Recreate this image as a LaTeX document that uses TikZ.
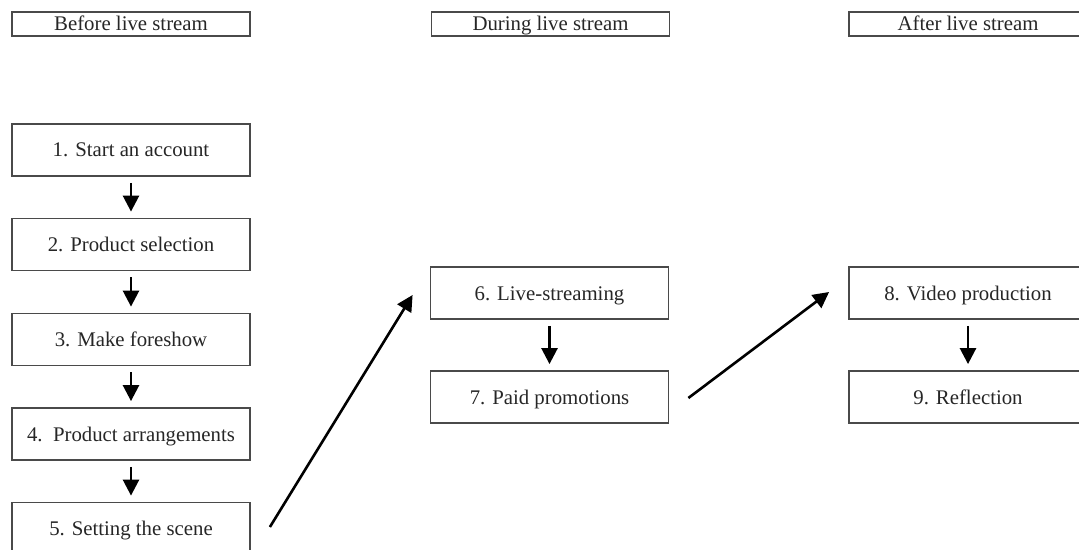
\documentclass[tikz,border=0pt]{standalone}
\usepackage{fontspec}
\setmainfont{Liberation Serif}
\usetikzlibrary{arrows.meta}

\begin{document}
\begin{tikzpicture}[x=0.5pt,y=-0.5pt]
% Colors define
\definecolor{myGray}{HTML}{4A4A4A}
\definecolor{myText}{HTML}{262626}

\tikzset{
  stage/.style={draw=myGray,line width=0.9pt,minimum width=119pt,minimum height=12pt,inner sep=0pt,text=myText,text height=0.75em,text depth=0.05em,font=\fontsize{10.4}{12}\selectfont},
  stepbox/.style={stage,minimum height=26pt},
  flow/.style={line width=1.3pt,-{Triangle[length=8pt,width=8pt]}}
}

\useasboundingbox (0,0) rectangle (1079,550);

% Stage headers
\node[stage] (before) at (131,24) {Before live stream};
\node[stage] (during) at (550.5,24) {During live stream};
\node[stage] (after) at (968,24) {After live stream};

% Steps before
\node[stepbox] (s1) at (131,150) {1. Start an account};
\node[stepbox] (s2) at (131,244.5) {2. Product selection};
\node[stepbox] (s3) at (131,339.5) {3. Make foreshow};
\node[stepbox] (s4) at (131,434) {4.\ \ Product arrangements};
\node[stepbox] (s5) at (131,528.5) {5. Setting the scene};

% Steps during and after
\node[stepbox] (s6) at (549.5,293) {6. Live-streaming};
\node[stepbox] (s7) at (549.5,397) {7. Paid promotions};
\node[stepbox] (s8) at (968,293) {8. Video production};
\node[stepbox] (s9) at (968,397) {9. Reflection};

% Short arrows
\foreach \a/\b in {s1/s2,s2/s3,s3/s4,s4/s5,s6/s7,s8/s9}
    \draw[flow,shorten <=3pt,shorten >=3pt] (\a.south) -- (\b.north);

% Long arrows
\draw[flow] ([xshift=9.5pt,yshift=0.75pt]s5.east) -- ([xshift=-8.5pt,yshift=-1pt]s6.west);
\draw[flow] ([xshift=9.5pt,yshift=-0.5pt]s7.east) -- ([xshift=-9.5pt,yshift=0.5pt]s8.west);
\end{tikzpicture}
\end{document}
